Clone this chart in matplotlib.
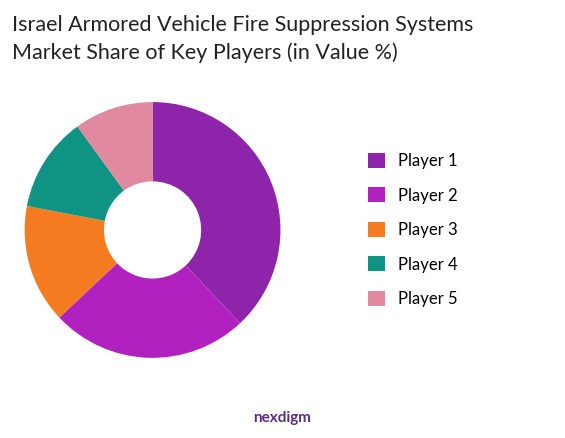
import matplotlib
matplotlib.use("Agg")
import matplotlib.pyplot as plt
from matplotlib.patches import Patch

labels = ["Player 1", "Player 2", "Player 3", "Player 4", "Player 5"]
values = [38, 25, 15, 12, 10]
colors = ["#8E24AA", "#B021BF", "#F47B20", "#0F9484", "#E0899F"]

fig = plt.figure(figsize=(5.65, 4.38), dpi=100)
fig.patch.set_facecolor("white")
ax = fig.add_axes([0.27 - 0.2265, 0.475 - 0.292, 0.453, 0.584])
ax.pie(values, colors=colors, startangle=90, counterclock=False,
       wedgeprops=dict(width=0.62, edgecolor="none"), radius=1.0)
ax.set_xlim(-1, 1)
ax.set_ylim(-1, 1)
ax.set_aspect("equal")

fig.text(0.022, 0.965, "Israel Armored Vehicle Fire Suppression Systems\nMarket Share of Key Players (in Value %)",
         ha="left", va="top", fontsize=15.5, family="Lato", color="#222222", linespacing=1.4)

handles = [Patch(facecolor=c, edgecolor="none") for c in colors]
fig.legend(handles, labels, loc="center left", bbox_to_anchor=(0.625, 0.475),
           frameon=False, prop=dict(family="Lato", size=12),
           handlelength=1.0, handleheight=1.0, labelspacing=1.1, handletextpad=0.8)

fig.text(0.5, 0.045, "nexdigm", ha="center", va="center", fontsize=11,
         family="Lato", fontweight="bold", color="#5B2C83")
fig.savefig("out.png", dpi=100, facecolor="white")
